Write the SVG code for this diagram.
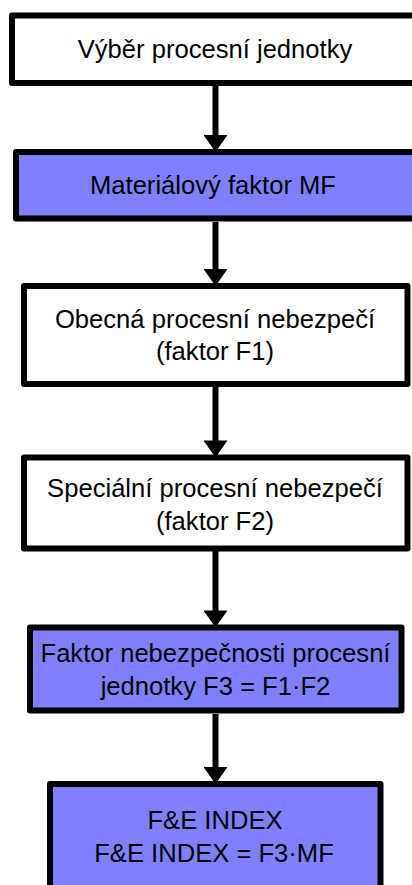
<svg xmlns="http://www.w3.org/2000/svg" width="412" height="885" viewBox="0 0 412 885">
<style>
.box{stroke:#000;stroke-width:6;stroke-linejoin:round}
.w{fill:#fff}
.b{fill:#8080ff}
.t{font-family:"Liberation Sans",Arial,sans-serif;font-size:25.6px;fill:#000;text-anchor:middle}
.c{stroke:#000;stroke-width:6;fill:none}
</style>
<defs>
<marker id="ah" markerUnits="userSpaceOnUse" markerWidth="24" markerHeight="24" viewBox="0 0 18 24" refX="5" refY="12" orient="auto">
<path d="M0,0 L17,12 L0,24 z" fill="#000"/>
</marker>
</defs>
<rect width="412" height="885" fill="#fff"/>
<g id="connectors">
<line class="c" x1="215.5" y1="86" x2="215.5" y2="140" marker-end="url(#ah)"/>
<line class="c" x1="215.5" y1="222" x2="215.5" y2="274" marker-end="url(#ah)"/>
<line class="c" x1="215.5" y1="387" x2="215.5" y2="445.5" marker-end="url(#ah)"/>
<line class="c" x1="215.5" y1="551" x2="215.5" y2="615.5" marker-end="url(#ah)"/>
<line class="c" x1="215.5" y1="714" x2="215.5" y2="772" marker-end="url(#ah)"/>
</g>
<g id="n1">
<rect class="box w" x="12" y="15.5" width="420" height="67.5"/>
<text class="t" x="215" y="58">Výběr procesní jednotky</text>
</g>
<g id="n2">
<rect class="box b" x="16" y="152" width="420" height="66.5"/>
<text class="t" x="213" y="194">Materiálový faktor MF</text>
</g>
<g id="n3">
<rect class="box w" x="24" y="286" width="383.5" height="98"/>
<text class="t" x="215" y="328">Obecná procesní nebezpečí</text>
<text class="t" x="215" y="360">(faktor F1)</text>
</g>
<g id="n4">
<rect class="box w" x="24" y="457.5" width="383.5" height="91"/>
<text class="t" x="215" y="497">Speciální procesní nebezpečí</text>
<text class="t" x="215" y="530">(faktor F2)</text>
</g>
<g id="n5">
<rect class="box b" x="30" y="627.5" width="371.5" height="83"/>
<text class="t" x="215.5" y="662">Faktor nebezpečnosti procesní</text>
<text class="t" x="215.5" y="695">jednotky F3 = F1·F2</text>
</g>
<g id="n6">
<rect class="box b" x="50" y="784" width="330.5" height="110"/>
<text class="t" x="215" y="829">F&amp;E INDEX</text>
<text class="t" x="214" y="862">F&amp;E INDEX = F3·MF</text>
</g>
</svg>
